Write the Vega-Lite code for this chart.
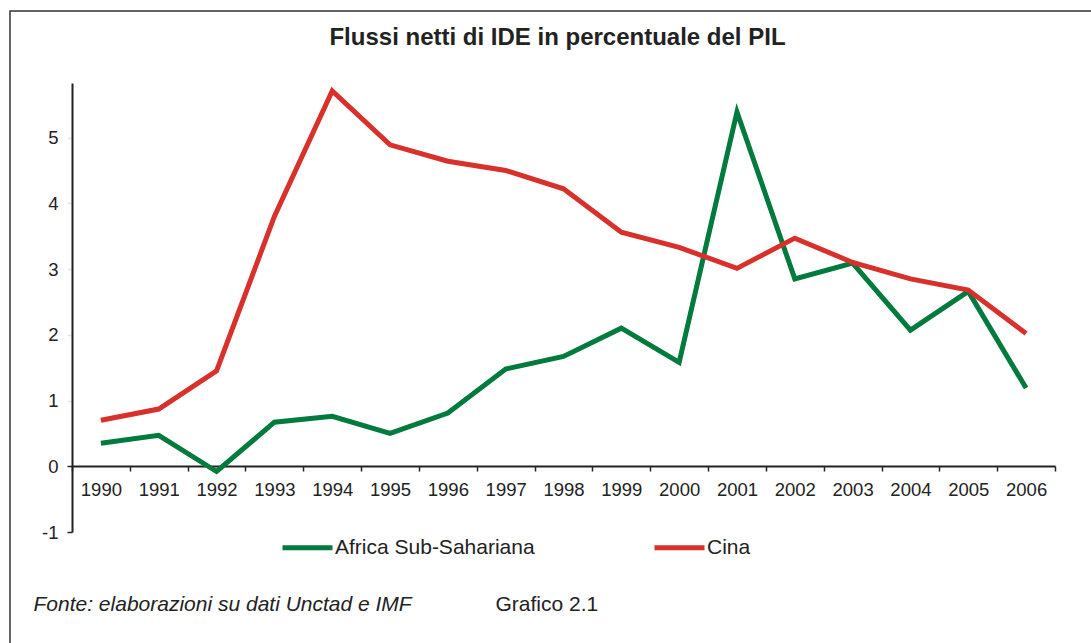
{
  "$schema": "https://vega.github.io/schema/vega-lite/v6.json",
  "autosize": {"type": "none"},
  "width": 1083,
  "height": 634,
  "padding": {"left": 10, "top": 11, "right": -2, "bottom": -2},
  "background": "white",
  "title": {
    "text": "Flussi netti di IDE in percentuale del PIL",
    "font": "Liberation Sans",
    "fontSize": 24,
    "fontWeight": "bold",
    "color": "#222",
    "anchor": "middle",
    "frame": "group",
    "baseline": "alphabetic",
    "offset": -58,
    "dx": 6
  },
  "config": {
    "font": "Liberation Sans",
    "view": {"stroke": "#333", "strokeWidth": 1.5}
  },
  "data": {
    "values": [
      {"anno": "1990", "serie": "Africa Sub-Sahariana", "valore": 0.35},
      {"anno": "1991", "serie": "Africa Sub-Sahariana", "valore": 0.47},
      {"anno": "1992", "serie": "Africa Sub-Sahariana", "valore": -0.08},
      {"anno": "1993", "serie": "Africa Sub-Sahariana", "valore": 0.67},
      {"anno": "1994", "serie": "Africa Sub-Sahariana", "valore": 0.76},
      {"anno": "1995", "serie": "Africa Sub-Sahariana", "valore": 0.50},
      {"anno": "1996", "serie": "Africa Sub-Sahariana", "valore": 0.81},
      {"anno": "1997", "serie": "Africa Sub-Sahariana", "valore": 1.48},
      {"anno": "1998", "serie": "Africa Sub-Sahariana", "valore": 1.67},
      {"anno": "1999", "serie": "Africa Sub-Sahariana", "valore": 2.10},
      {"anno": "2000", "serie": "Africa Sub-Sahariana", "valore": 1.58},
      {"anno": "2001", "serie": "Africa Sub-Sahariana", "valore": 5.39},
      {"anno": "2002", "serie": "Africa Sub-Sahariana", "valore": 2.85},
      {"anno": "2003", "serie": "Africa Sub-Sahariana", "valore": 3.09},
      {"anno": "2004", "serie": "Africa Sub-Sahariana", "valore": 2.07},
      {"anno": "2005", "serie": "Africa Sub-Sahariana", "valore": 2.66},
      {"anno": "2006", "serie": "Africa Sub-Sahariana", "valore": 1.19},
      {"anno": "1990", "serie": "Cina", "valore": 0.70},
      {"anno": "1991", "serie": "Cina", "valore": 0.87},
      {"anno": "1992", "serie": "Cina", "valore": 1.45},
      {"anno": "1993", "serie": "Cina", "valore": 3.80},
      {"anno": "1994", "serie": "Cina", "valore": 5.71},
      {"anno": "1995", "serie": "Cina", "valore": 4.89},
      {"anno": "1996", "serie": "Cina", "valore": 4.64},
      {"anno": "1997", "serie": "Cina", "valore": 4.50},
      {"anno": "1998", "serie": "Cina", "valore": 4.22},
      {"anno": "1999", "serie": "Cina", "valore": 3.56},
      {"anno": "2000", "serie": "Cina", "valore": 3.33},
      {"anno": "2001", "serie": "Cina", "valore": 3.01},
      {"anno": "2002", "serie": "Cina", "valore": 3.47},
      {"anno": "2003", "serie": "Cina", "valore": 3.10},
      {"anno": "2004", "serie": "Cina", "valore": 2.85},
      {"anno": "2005", "serie": "Cina", "valore": 2.68},
      {"anno": "2006", "serie": "Cina", "valore": 2.02}
    ]
  },
  "mark": {"type": "line", "strokeWidth": 5, "strokeJoin": "miter", "strokeCap": "butt"},
  "encoding": {
    "x": {
      "field": "anno",
      "type": "ordinal",
      "scale": {"type": "band", "paddingInner": 0, "paddingOuter": 0, "range": [62, 1045]},
      "axis": {
        "orient": "bottom",
        "offset": -179,
        "labelAngle": 0,
        "labelFontSize": 18.5,
        "labelColor": "#222",
        "labelPadding": 9,
        "tickBand": "extent",
        "tickSize": 5,
        "tickColor": "#222",
        "tickWidth": 1.5,
        "domainColor": "#222",
        "domainWidth": 2,
        "grid": false,
        "title": "Fonte: elaborazioni su dati Unctad e IMF",
        "titleFontSize": 21,
        "titleFontStyle": "italic",
        "titleFontWeight": "normal",
        "titleColor": "#222",
        "titleX": 23,
        "titleY": 138,
        "titleAlign": "left",
        "titleAnchor": "start",
        "titleBaseline": "middle"
      }
    },
    "y": {
      "field": "valore",
      "type": "quantitative",
      "scale": {"domain": [-1, 5.83], "range": [521, 72], "nice": false, "zero": false},
      "axis": {
        "orient": "left",
        "offset": -62,
        "values": [-1, 0, 1, 2, 3, 4, 5],
        "labelExpr": "datum.value < 0 ? '-' + abs(datum.value) : datum.label",
        "labelFontSize": 18.5,
        "labelColor": "#222",
        "labelPadding": 9,
        "tickSize": 5,
        "tickColor": {"condition": {"test": "datum.value <= 0", "value": "#222"}, "value": "#e4e4e4"},
        "tickWidth": 1.5,
        "domainColor": "#222",
        "domainWidth": 2,
        "grid": false,
        "title": "Grafico 2.1",
        "titleFontSize": 21,
        "titleFontWeight": "normal",
        "titleColor": "#222",
        "titleAngle": 0,
        "titleX": 423,
        "titleY": 593,
        "titleAlign": "left",
        "titleAnchor": "start",
        "titleBaseline": "middle"
      }
    },
    "color": {
      "field": "serie",
      "type": "nominal",
      "scale": {"domain": ["Africa Sub-Sahariana", "Cina"], "range": ["#007a3d", "#d8312b"]},
      "legend": {
        "title": null,
        "orient": "none",
        "legendX": 270,
        "legendY": 509,
        "direction": "horizontal",
        "padding": 0,
        "symbolType": "stroke",
        "symbolSize": 2500,
        "symbolStrokeWidth": 5,
        "labelFontSize": 21,
        "labelLimit": 0,
        "labelColor": "#222",
        "labelOffset": 0,
        "columnPadding": 109
      }
    }
  }
}
